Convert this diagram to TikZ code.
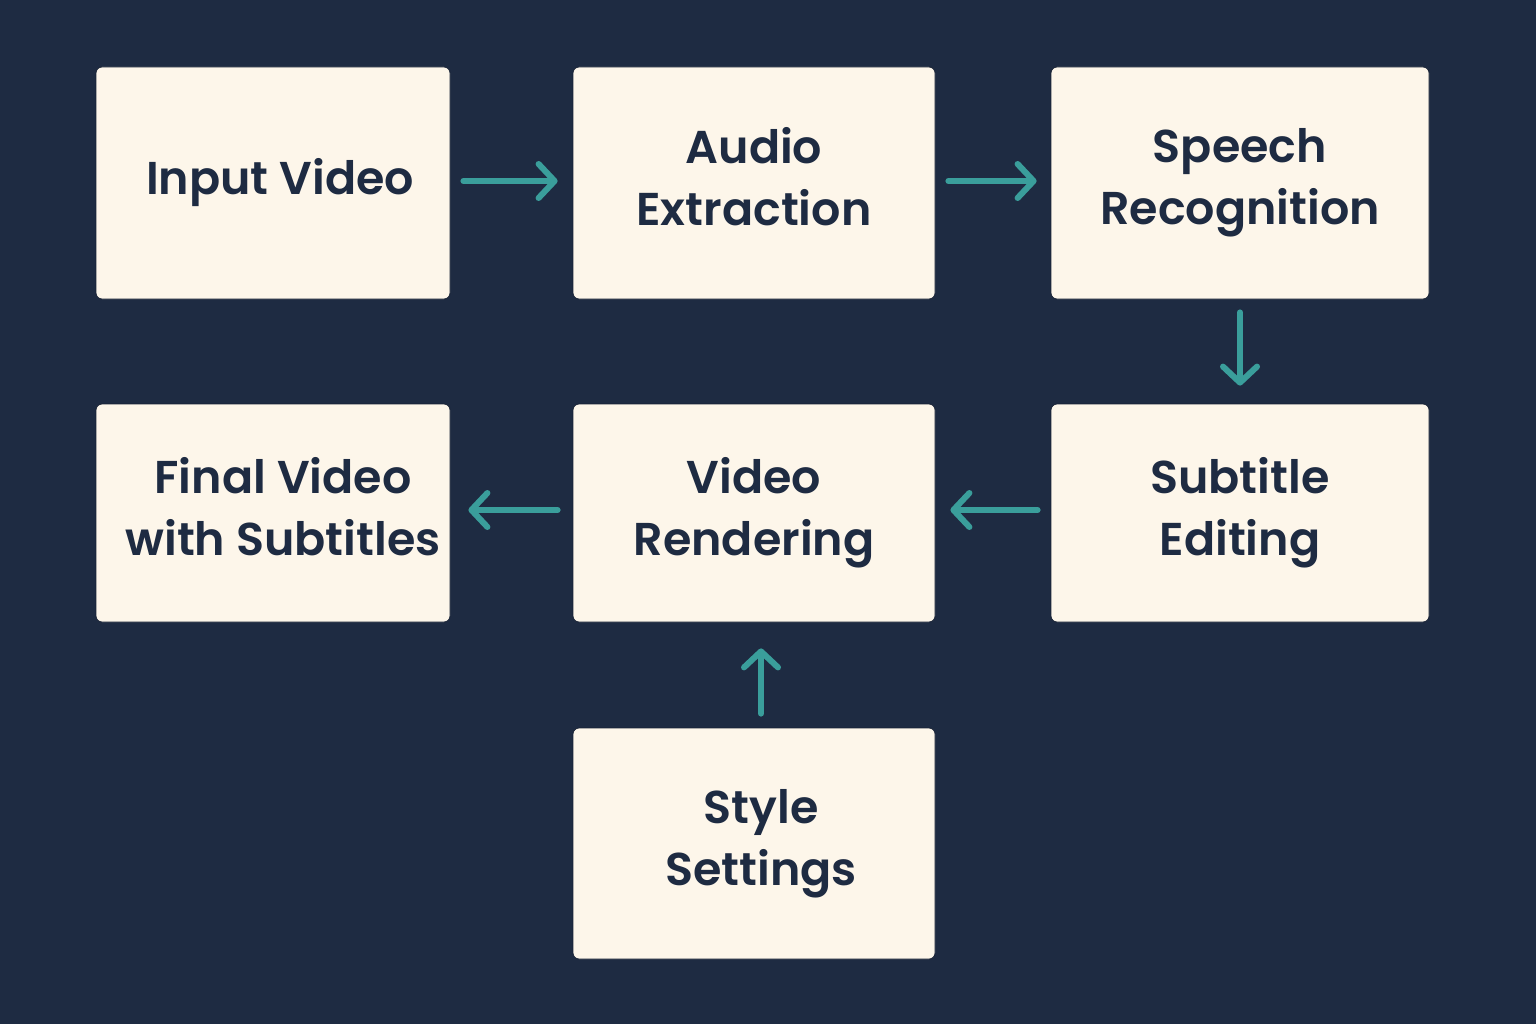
\documentclass[tikz,border=0pt]{standalone}
\usepackage{fontspec}
\setmainfont{Poppins}[BoldFont={Poppins SemiBold}]
\usetikzlibrary{arrows.meta}
\definecolor{bgc}{HTML}{1E2B42}
\definecolor{boxfill}{HTML}{FDF6EA}
\definecolor{arrowc}{HTML}{3A9E9B}
\begin{document}
\begin{tikzpicture}[x=1pt,y=-1pt,
  box/.style={fill=boxfill, draw=bgc!80!black, line width=0.8pt, rounded corners=6pt, inner sep=0pt, align=center, text=bgc,
    font=\fontsize{46}{62}\selectfont\bfseries},
  flow/.style={draw=arrowc, line width=6pt, line cap=round,
    -{Straight Barb[length=16pt, width=34pt, line cap=round, line join=round]}}]
\fill[bgc] (0,0) rectangle (1536,1024);
\useasboundingbox (0,0) rectangle (1536,1024);
\node[box, minimum width=354pt, minimum height=232pt] (iv) at (273,183) {\hspace*{14pt}Input Video};
\node[box, minimum width=362pt, minimum height=232pt] (ae) at (754,183) {Audio\\Extraction\vphantom{g}};
\node[box, minimum width=378pt, minimum height=232pt] (sr) at (1240,183) {Speech\\Recognition};
\node[box, minimum width=354pt, minimum height=218pt] (fv) at (273,513) {\hspace*{20pt}Final Video\\\hspace*{20pt}with Subtitles\vphantom{g}};
\node[box, minimum width=362pt, minimum height=218pt] (vr) at (754,513) {Video\\Rendering};
\node[box, minimum width=378pt, minimum height=218pt] (se) at (1240,513) {Subtitle\\Editing};
\node[box, minimum width=362pt, minimum height=231pt] (ss) at (754,843.5) {\hspace*{14pt}Style\\\hspace*{14pt}Settings};
\draw[flow, shorten <=13pt, shorten >=15pt] ([yshift=2pt]iv.east) -- ([yshift=2pt]ae.west);
\draw[flow, shorten <=13pt, shorten >=14pt] ([yshift=2pt]ae.east) -- ([yshift=2pt]sr.west);
\draw[flow, shorten <=13pt, shorten >=18pt] (sr.south) -- (se.north);
\draw[flow, shorten <=13pt, shorten >=15pt] ([yshift=3pt]se.west) -- ([yshift=3pt]vr.east);
\draw[flow, shorten <=15pt, shorten >=18pt] ([yshift=3pt]vr.west) -- ([yshift=3pt]fv.east);
\draw[flow, shorten <=14pt, shorten >=26pt] ([xshift=7pt]ss.north) -- ([xshift=7pt]vr.south);
\end{tikzpicture}
\end{document}
